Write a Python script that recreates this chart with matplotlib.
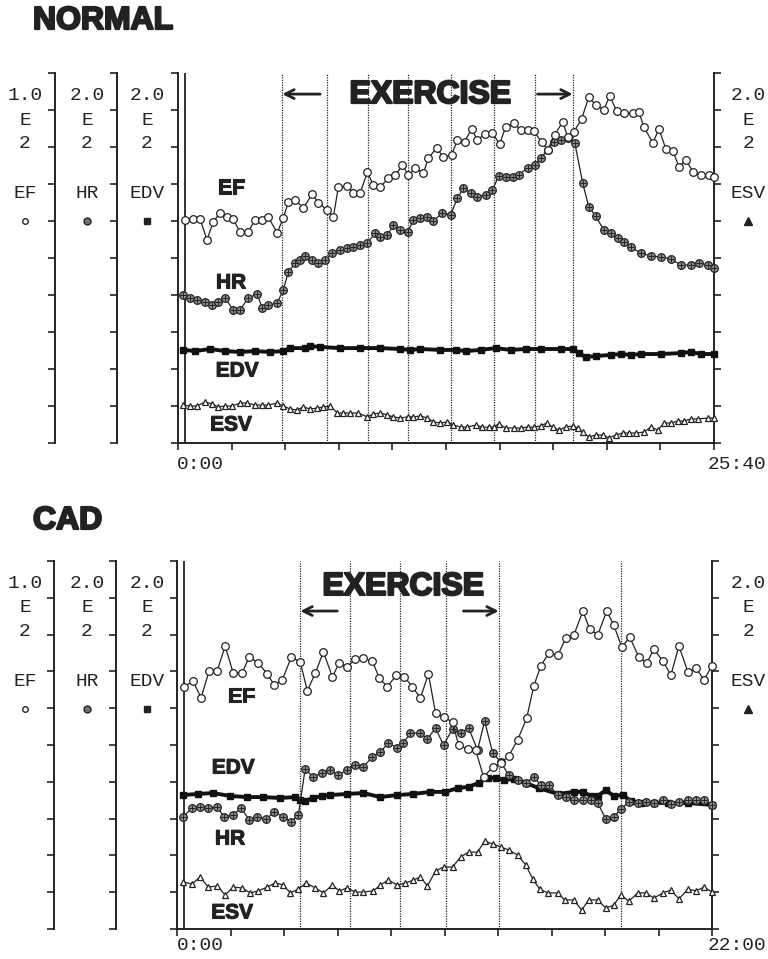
import numpy as np
import matplotlib.pyplot as plt
import matplotlib.patheffects as pe
from matplotlib.lines import Line2D

# NORMAL: time in minutes, EF in %, HR in bpm, EDV / ESV on the 0-200 scale
n_ef_t = [0.34, 0.72, 1.06, 1.39, 1.68, 2.01, 2.35, 2.64, 2.97, 3.36, 3.69, 4.03, 4.32, 4.75, 5.04, 5.28,
          5.61, 6.00, 6.43, 6.72, 7.15, 7.44, 7.68, 8.11, 8.39, 8.73, 9.07, 9.35, 9.69, 10.07, 10.41, 10.75,
          11.03, 11.37, 11.75, 11.99, 12.38, 12.71, 13.10, 13.38, 13.72, 14.06, 14.34, 14.68, 15.06, 15.40,
          15.69, 16.07, 16.41, 16.74, 17.03, 17.41, 17.70, 18.04, 18.42, 18.66, 18.95, 19.33, 19.67, 20.00,
          20.39, 20.67, 21.01, 21.35, 21.78, 22.07, 22.31, 22.74, 23.03, 23.36, 23.70, 23.99, 24.32, 24.66,
          25.04, 25.42, 25.67]
n_ef = [60.3, 60.5, 60.5, 54.9, 59.7, 62.2, 61.1, 60.5, 57.0, 57.0, 60.3, 60.3, 61.1, 56.8, 60.8, 65.1,
        65.7, 63.5, 67.3, 64.9, 63.0, 61.1, 69.2, 69.5, 67.6, 67.6, 73.3, 69.7, 69.2, 71.6, 72.4, 75.1,
        72.4, 74.3, 73.0, 77.0, 79.7, 77.3, 77.8, 81.9, 81.4, 84.9, 81.9, 83.5, 83.8, 80.8,
        85.4, 86.5, 84.6, 84.6, 84.3, 81.4, 79.2, 83.3, 86.8, 82.7, 84.1, 87.6, 93.5, 91.4,
        90.0, 93.8, 89.7, 89.2, 89.2, 89.5, 85.4, 81.1, 84.9, 79.5, 78.9, 74.6, 76.5, 73.3,
        72.4, 72.4, 71.9]
n_hr_t = [0.24, 0.58, 0.91, 1.30, 1.63, 1.92, 2.26, 2.64, 2.97, 3.36, 3.79, 4.03, 4.32, 4.75, 5.04, 5.28,
          5.61, 5.85, 6.09, 6.43, 6.72, 7.05, 7.39, 7.77, 8.11, 8.39, 8.73, 9.07, 9.45, 9.69, 10.03, 10.31,
          10.65, 10.99, 11.27, 11.61, 11.94, 12.23, 12.66, 13.05, 13.38, 13.67, 14.01, 14.34, 14.73, 15.06,
          15.35, 15.69, 16.02, 16.31, 16.74, 17.08, 17.37, 17.70, 17.99, 18.32, 18.66, 19.00, 19.38, 19.67,
          20.00, 20.39, 20.72, 21.06, 21.35, 21.68, 22.16, 22.64, 23.12, 23.60, 24.08, 24.56, 24.94, 25.38,
          25.67]
n_hr = [80.0, 78.4, 77.3, 76.2, 74.6, 76.2, 78.4, 71.9, 71.9, 78.4, 80.5, 73.0, 74.6, 75.7, 82.7, 92.4,
        97.3, 98.9, 101.1, 98.9, 97.3, 98.9, 102.7, 104.3, 105.4, 105.9, 107.0, 108.1, 113.5, 111.3, 112.4, 117.8,
        115.1, 114.0, 120.5, 121.6, 122.2, 120.0, 124.3, 123.2, 132.4, 137.8, 135.1, 133.0, 134.0, 136.7,
        144.3, 143.8, 143.8, 144.9, 148.6, 150.3, 154.0, 158.4, 162.7, 163.8, 164.9, 162.2, 140.5, 127.6,
        122.7, 115.1, 113.5, 110.8, 108.6, 105.9, 102.7, 101.1, 100.5, 99.5, 96.2, 96.2, 97.3, 96.2,
        94.6]
n_edv_t = [0.24, 0.82, 1.54, 2.25, 2.97, 3.69, 4.41, 5.04, 5.37, 6.09, 6.33, 6.81, 7.77, 8.73, 9.69, 10.65,
           11.13, 11.61, 12.57, 13.29, 13.77, 14.49, 15.21, 15.93, 16.65, 17.37, 18.32, 18.90, 19.19, 19.52,
           20.00, 20.72, 21.20, 21.68, 22.16, 23.12, 24.08, 24.56, 25.04, 25.67]
n_edv = [50.3, 49.7, 50.8, 49.7, 49.2, 49.7, 49.2, 49.7, 51.3, 51.3, 52.4, 51.9, 51.3, 51.3, 51.3, 50.8,
         50.3, 50.8, 50.3, 50.3, 49.7, 50.3, 51.3, 50.3, 50.8, 50.8, 50.8, 50.8, 48.6, 46.5,
         47.0, 47.6, 48.1, 47.6, 48.1, 48.1, 48.6, 49.2, 48.1, 48.1]
n_esv_t = [0.24, 0.58, 0.91, 1.30, 1.63, 1.92, 2.25, 2.59, 2.97, 3.31, 3.69, 4.03, 4.32, 4.75, 5.04, 5.37,
           5.71, 6.00, 6.33, 6.67, 6.96, 7.29, 7.63, 7.92, 8.25, 8.63, 9.07, 9.35, 9.69, 10.03, 10.31, 10.65,
           10.99, 11.27, 11.61, 11.94, 12.23, 12.57, 12.90, 13.19, 13.53, 13.86, 14.25, 14.58, 14.87, 15.11,
           15.35, 15.69, 16.07, 16.41, 16.74, 17.03, 17.37, 17.65, 17.94, 18.23, 18.56, 18.90, 19.14, 19.38,
           19.67, 20.00, 20.34, 20.63, 20.96, 21.30, 21.59, 21.92, 22.31, 22.64, 22.98, 23.27, 23.60, 23.94,
           24.22, 24.56, 24.90, 25.38, 25.67]
n_esv = [20.5, 20.0, 20.0, 22.2, 21.1, 19.5, 20.0, 20.0, 21.6, 21.6, 20.5, 20.5, 20.5, 21.6, 20.0, 18.4,
         17.8, 19.5, 18.4, 18.9, 19.5, 20.0, 16.2, 16.2, 16.2, 16.2, 14.1, 15.7, 16.2, 15.1, 14.1, 13.5,
         14.1, 14.1, 14.6, 13.5, 11.4, 10.8, 11.4, 9.7, 8.6, 8.6, 9.7, 8.6, 8.6, 8.6,
         10.3, 8.1, 8.1, 8.1, 8.6, 8.6, 9.2, 10.8, 8.6, 7.0, 8.6, 9.2, 8.1, 5.9,
         3.2, 4.3, 4.3, 2.7, 4.3, 5.4, 5.4, 5.4, 5.9, 8.6, 7.0, 10.8, 10.8, 11.9,
         11.9, 13.0, 13.0, 13.5, 13.5]
n_stages = [4.99, 7.15, 9.11, 11.03, 13.05, 15.11, 17.08, 18.90]

# CAD
c_ef_t = [0.29, 0.66, 0.99, 1.32, 1.65, 1.98, 2.31, 2.68, 2.97, 3.34, 3.71, 4.00, 4.33, 4.70, 5.07, 5.36,
          5.69, 6.02, 6.39, 6.67, 7.00, 7.33, 7.66, 8.03, 8.32, 8.65, 9.02, 9.35, 9.68, 10.01, 10.34, 10.63,
          10.96, 11.33, 11.58, 11.95, 12.28, 12.61, 12.98, 13.31, 13.64, 14.01, 14.38, 14.67, 14.96, 15.29,
          15.66, 15.99, 16.32, 16.69, 16.97, 17.30, 17.67, 17.96, 18.29, 18.62, 18.99, 19.32, 19.61, 19.98,
          20.31, 20.64, 21.01, 21.34, 21.67, 22.00]
c_ef = [65.8, 67.4, 62.8, 70.1, 70.1, 76.9, 69.6, 69.6, 73.9, 72.3, 69.3, 66.3, 67.7, 73.9, 72.5, 64.7,
        69.6, 75.3, 68.5, 72.3, 71.2, 73.4, 73.6, 72.8, 68.2, 65.8, 69.0, 68.5, 65.8, 62.8, 69.3, 58.7,
        57.6, 56.2, 50.0, 48.9, 48.6, 41.3, 44.0, 45.1, 47.0, 51.4, 57.3, 66.0, 71.5, 75.0,
        74.4, 79.1, 79.9, 86.4, 81.5, 79.9, 86.4, 82.6, 76.6, 79.3, 73.9, 72.3, 76.1, 72.8,
        69.0, 76.9, 69.8, 70.9, 67.7, 71.5]
c_hr_t = [0.25, 0.62, 0.95, 1.28, 1.65, 1.94, 2.31, 2.64, 2.97, 3.30, 3.67, 4.00, 4.37, 4.70, 4.99, 5.27,
          5.60, 5.97, 6.30, 6.63, 7.00, 7.33, 7.66, 8.03, 8.36, 8.69, 9.06, 9.31, 9.60, 10.01, 10.30, 10.63,
          10.96, 11.33, 11.66, 11.99, 12.36, 12.65, 12.98, 13.31, 13.64, 14.01, 14.34, 14.67, 14.96, 15.29,
          15.66, 15.99, 16.32, 16.69, 17.02, 17.30, 17.63, 17.96, 18.25, 18.58, 18.95, 19.28, 19.61, 19.98,
          20.31, 20.64, 21.01, 21.34, 21.67, 22.00]
c_hr = [60.9, 65.8, 66.3, 65.8, 66.3, 60.9, 62.0, 65.8, 59.2, 60.9, 59.8, 63.6, 60.9, 58.2, 62.0, 87.0,
        82.6, 84.8, 86.4, 83.7, 86.4, 89.1, 88.0, 93.5, 96.2, 101.1, 98.4, 101.1, 106.5, 106.5, 103.3, 109.2,
        100.0, 108.7, 106.5, 109.2, 97.3, 113.0, 95.7, 90.8, 83.7, 81.0, 79.4, 82.6, 78.3, 78.3,
        72.8, 71.7, 70.1, 70.1, 70.1, 68.5, 59.8, 60.9, 65.2, 69.0, 68.5, 69.0, 68.5, 70.1,
        67.9, 69.0, 70.1, 70.1, 70.1, 67.4]
c_edv_t = [0.25, 0.87, 1.48, 2.18, 2.88, 3.54, 4.24, 4.86, 5.07, 5.27, 5.60, 5.97, 6.30, 7.00, 7.66, 8.36,
           9.06, 9.72, 10.42, 11.04, 11.54, 11.99, 12.40, 12.77, 13.10, 13.43, 13.84, 14.34, 14.87, 15.66,
           16.32, 16.69, 17.02, 17.30, 17.63, 17.96, 18.33, 18.66, 19.08, 19.61, 20.19, 21.01, 22.00]
c_edv = [72.8, 73.4, 73.9, 72.3, 71.7, 71.7, 71.2, 71.7, 70.1, 69.6, 71.2, 72.3, 72.8, 73.4, 73.9, 71.7,
         72.8, 73.4, 74.5, 74.5, 76.6, 77.2, 79.4, 82.1, 82.1, 81.0, 81.5, 79.4, 76.6, 73.4,
         74.5, 74.5, 72.3, 72.3, 75.5, 72.3, 72.8, 69.6, 68.5, 68.5, 68.5, 68.5, 67.4]
c_esv_t = [0.25, 0.62, 0.95, 1.28, 1.65, 1.98, 2.31, 2.68, 3.01, 3.34, 3.71, 4.04, 4.37, 4.66, 4.99, 5.31,
           5.69, 6.02, 6.39, 6.67, 7.00, 7.33, 7.66, 8.08, 8.36, 8.69, 9.06, 9.39, 9.72, 10.01, 10.30, 10.63,
           10.96, 11.33, 11.66, 11.99, 12.36, 12.65, 12.98, 13.31, 13.64, 14.01, 14.34, 14.63, 14.91, 15.24,
           15.66, 15.94, 16.32, 16.64, 16.93, 17.30, 17.63, 17.96, 18.25, 18.58, 18.95, 19.28, 19.61, 19.98,
           20.31, 20.64, 21.01, 21.34, 21.67, 22.00]
c_esv = [25.5, 24.5, 28.3, 22.8, 23.4, 18.5, 22.8, 22.3, 19.6, 20.7, 22.8, 25.0, 23.9, 19.6, 21.7, 25.0,
         22.3, 19.6, 23.9, 20.7, 22.3, 20.1, 20.1, 20.7, 23.9, 26.6, 23.9, 25.0, 26.6, 28.3, 23.4, 31.5,
         33.7, 33.7, 39.1, 41.8, 41.8, 47.8, 46.2, 44.6, 42.9, 40.2, 34.8, 27.2, 21.7, 19.6,
         19.6, 15.8, 15.8, 10.3, 15.8, 15.8, 11.4, 13.0, 18.5, 15.2, 19.6, 19.6, 16.8, 19.6,
         21.2, 16.3, 21.7, 20.7, 22.8, 20.1]
c_stages = [5.07, 7.13, 9.15, 11.08, 13.23, 18.25]

W, H = 768, 959
fig = plt.figure(figsize=(W / 100, H / 100), dpi=100)

MONO = 'Liberation Mono'
SANS = 'Liberation Sans'
heavy = [pe.withStroke(linewidth=1.6, foreground='#222222')]
ink = '#222222'


def px(x, y):
    return x / W, 1 - y / H


def side_block(xc, ytop, top, name, marker, mfc, ms):
    for dy, s in [(22, top), (47, 'E'), (71, '2'), (120, name)]:
        fig.text(*px(xc, ytop + dy), s, ha='center', va='center', family=MONO, fontsize=14, color=ink)
    x, y = px(xc, ytop + 148)
    fig.add_artist(Line2D([x], [y], transform=fig.transFigure, marker=marker, mfc=mfc, mec=ink,
                          ms=ms, mew=1.0, ls=''))


def panel(box, tmax, tend, tlab_dy, title, title_y, data, stages, start, words, exer, arrows):
    x0, y0, x1, y1 = box
    rect = [x0 / W, 1 - y1 / H, (x1 - x0) / W, (y1 - y0) / H]
    # extra left axes for EF and HR scales
    for off in (-0.2295, -0.1138):
        sa = fig.add_axes(rect)
        sa.patch.set_visible(False)
        for s in ('top', 'right', 'bottom'):
            sa.spines[s].set_visible(False)
        sa.spines['left'].set_position(('axes', off))
        sa.spines['left'].set_linewidth(1.4)
        sa.spines['left'].set_color(ink)
        sa.set_ylim(0, 200)
        sa.set_yticks(np.arange(0, 201, 20))
        sa.set_xticks([])
        sa.tick_params(axis='y', direction='out', length=5, width=1.2, labelleft=False, color=ink)

    ax = fig.add_axes(rect)
    ax.patch.set_visible(False)
    ax.set_xlim(0, tmax)
    ax.set_ylim(0, 200)
    ax.spines['top'].set_visible(False)
    for s in ('left', 'right', 'bottom'):
        ax.spines[s].set_linewidth(1.4)
        ax.spines[s].set_color(ink)
    ax.set_yticks(np.arange(0, 201, 20))
    ax.set_xticks(np.linspace(0, tmax, 11))
    ax.tick_params(axis='y', left=True, right=True, direction='out', length=5, width=1.2,
                   labelleft=False, labelright=False, color=ink)
    ax.tick_params(axis='x', direction='out', length=5, width=1.2, labelbottom=False, color=ink)

    ax.axvline(start, color=ink, lw=1.3)
    for t in stages:
        ax.axvline(t, color=ink, lw=0.9, ls=(0, (1, 1)))

    ef_t, ef, hr_t, hr, edv_t, edv, esv_t, esv = data
    ax.plot(edv_t, edv, '-s', color='#111111', ms=4.5, lw=2.8, clip_on=False, zorder=3)
    ax.plot(esv_t, esv, '-^', color=ink, mfc='white', mec=ink, ms=5, mew=0.9, lw=0.9,
            clip_on=False, zorder=3)
    ax.plot(hr_t, hr, '-o', color=ink, mfc='0.55', mec=ink, ms=5.5, mew=0.9, lw=0.9,
            clip_on=False, zorder=4)
    ax.plot(hr_t, hr, '+', color=ink, ms=4, mew=0.7, clip_on=False, zorder=4)
    ax.plot(ef_t, np.array(ef) * 2, '-o', color=ink, mfc='white', mec=ink, ms=5.5, mew=0.9,
            lw=0.9, clip_on=False, zorder=5)

    for (t, v, s) in words:
        ax.text(t, v, s, ha='center', va='center', family=SANS, weight='bold', fontsize=15,
                color=ink, path_effects=[pe.withStroke(linewidth=0.8, foreground=ink)])
    ax.text(exer[0], exer[1], 'EXERCISE', ha='center', va='center', family=SANS, weight='bold',
            fontsize=23, color=ink, path_effects=heavy)
    for (ta, tb, v) in arrows:
        ax.annotate('', xy=(tb, v), xytext=(ta, v),
                    arrowprops=dict(arrowstyle='->', lw=2.0, color=ink, mutation_scale=16,
                                    shrinkA=0, shrinkB=0))

    fig.text(*px(33, title_y), title, ha='left', va='center', family=SANS, weight='bold',
             fontsize=23, color=ink, path_effects=heavy)
    side_block(25, y0, '1.0', 'EF', 'o', 'white', 4)
    side_block(87, y0, '2.0', 'HR', 'o', '0.45', 5)
    side_block(147, y0, '2.0', 'EDV', 's', ink, 5)
    side_block(748, y0, '2.0', 'ESV', '^', ink, 5.5)
    fig.text(*px(177, y1 + tlab_dy), '0:00', ha='left', va='center', family=MONO, fontsize=14, color=ink)
    fig.text(*px(766, y1 + tlab_dy), tend, ha='right', va='center', family=MONO, fontsize=14, color=ink)
    return ax


panel((178, 73, 714, 443), 25.667, '25:40', 22, 'NORMAL', 21,
      (n_ef_t, n_ef, n_hr_t, n_hr, n_edv_t, n_edv, n_esv_t, n_esv),
      n_stages, 0.34,
      [(2.54, 137.8, 'EF'), (2.54, 86.5, 'HR'), (2.83, 38.9, 'EDV'), (2.54, 9.7, 'ESV')],
      (12.09, 188.1),
      [(6.81, 4.99, 188.6), (17.22, 18.90, 188.6)])

panel((177, 561, 712, 929), 22.0, '22:00', 16, 'CAD', 521,
      (c_ef_t, c_ef, c_hr_t, c_hr, c_edv_t, c_edv, c_esv_t, c_esv),
      c_stages, 0.29,
      [(2.64, 126.1, 'EF'), (2.31, 87.5, 'EDV'), (2.18, 48.9, 'HR'), (2.27, 8.7, 'ESV')],
      (9.31, 185.9),
      [(6.59, 5.07, 172.8), (11.78, 13.23, 172.8)])

fig.savefig('out.png', dpi=100)
